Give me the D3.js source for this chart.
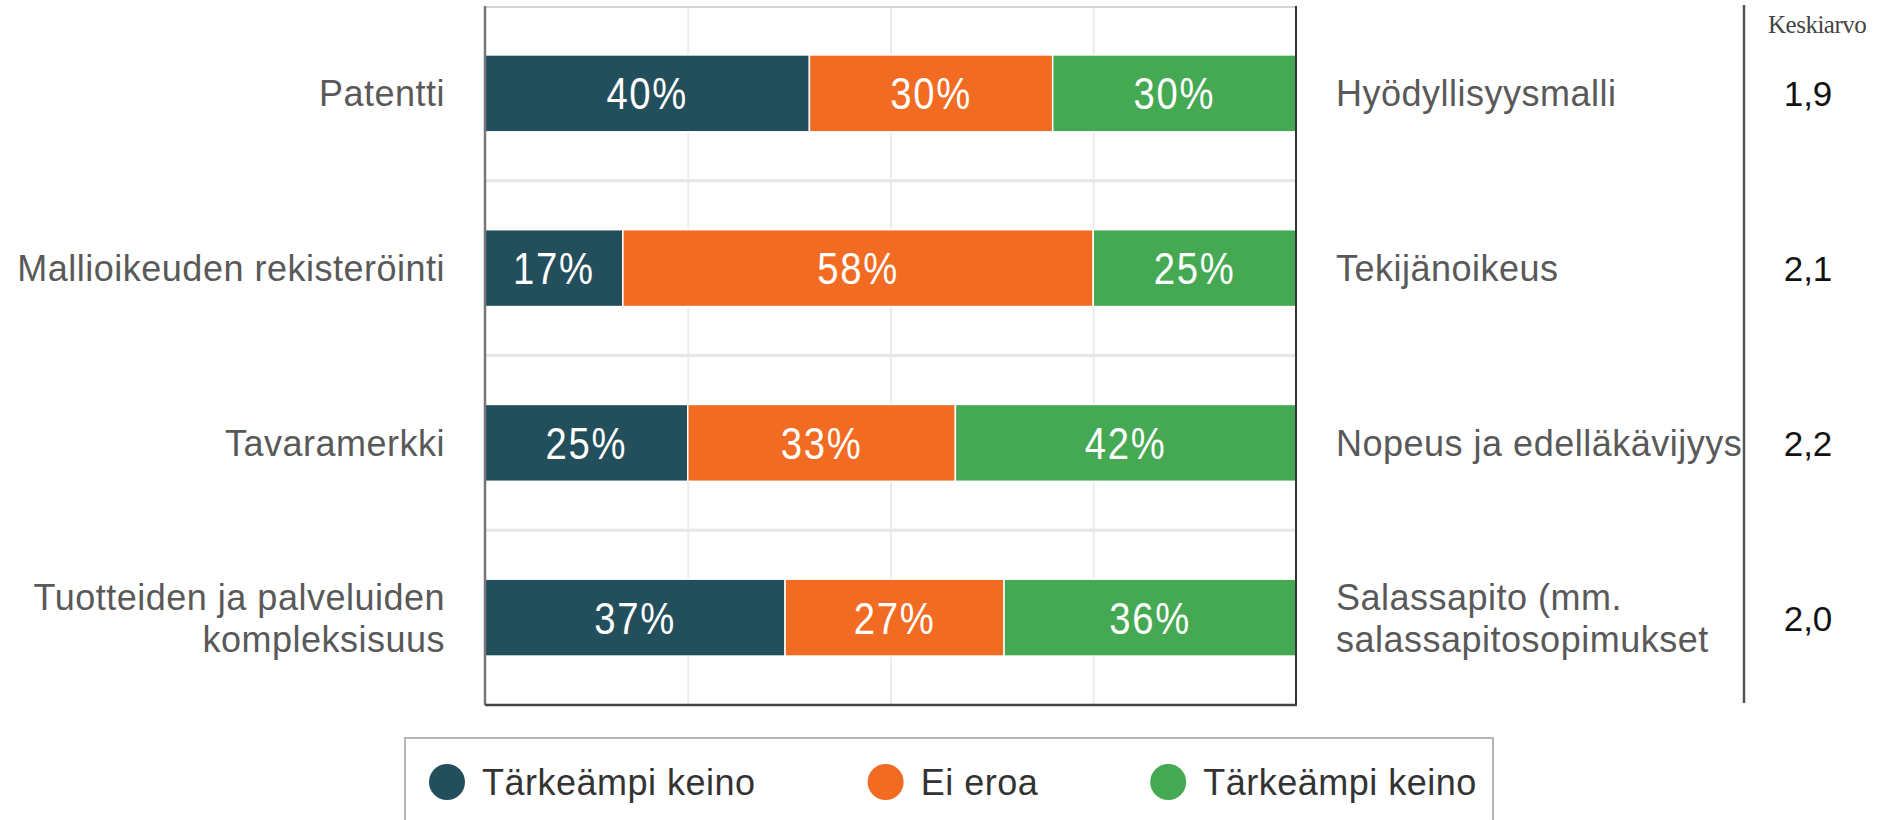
<!DOCTYPE html>
<html>
<head>
    <script src="https://d3js.org/d3.v7.min.js"></script>
    <style>
        body { margin: 0; background: #fff; }
        svg { display: block; }
    </style>
</head>
<body>
    <div id="chart"></div>

    <script>
        // Data
        const leftLabels = [["Patentti"], ["Mallioikeuden rekisteröinti"], ["Tavaramerkki"], ["Tuotteiden ja palveluiden", "kompleksisuus"]];
        const rightLabels = [["Hyödyllisyysmalli"], ["Tekijänoikeus"], ["Nopeus ja edelläkävijyys"], ["Salassapito (mm.", "salassapitosopimukset"]];
        const categories = ["Patentti", "Mallioikeuden rekisteröinti", "Tavaramerkki", "Tuotteiden ja palveluiden kompleksisuus"];
        const leftShare = [40, 17, 25, 37];
        const noDiff = [30, 58, 33, 27];
        const rightShare = [30, 25, 42, 36];
        const averages = ["1,9", "2,1", "2,2", "2,0"];
        const seriesNames = ["Tärkeämpi keino", "Ei eroa", "Tärkeämpi keino"];
        const colors = ["#234e5b", "#f26b23", "#45a853"];
        const xTicks = [25, 50, 75];

        const W = 1883, H = 820;
        const pLeft = 485, pRight = 1296, pTop = 6, pBottom = 705;

        const svg = d3.select("#chart").append("svg")
            .attr("width", W)
            .attr("height", H);

        const x = d3.scaleLinear().domain([0, 100]).range([pLeft, pRight]);
        const y = d3.scaleBand().domain(categories).range([pTop, pBottom])
            .paddingInner(0.56).paddingOuter(0.28);

        // vertical gridlines
        svg.append("g")
            .attr("transform", `translate(0,${pBottom})`)
            .call(d3.axisBottom(x).tickValues(xTicks).tickSize(-(pBottom - pTop)).tickFormat(""))
            .call(g => g.select(".domain").remove())
            .call(g => g.selectAll("line").attr("stroke", "#ececec").attr("stroke-width", 2));

        // horizontal separators between categories
        svg.append("g").selectAll("line")
            .data(categories.slice(1))
            .join("line")
            .attr("x1", pLeft).attr("x2", pRight)
            .attr("y1", d => y(d) - y.step() * y.paddingInner() / 2)
            .attr("y2", d => y(d) - y.step() * y.paddingInner() / 2)
            .attr("stroke", "#e6e6e6")
            .attr("stroke-width", 3);

        // stacked bars
        const rows = categories.map((c, i) => {
            const vals = [leftShare[i], noDiff[i], rightShare[i]];
            let acc = 0;
            return vals.map((v, k) => {
                const seg = { cat: c, k: k, v: v, x0: acc, x1: acc + v };
                acc += v;
                return seg;
            });
        }).flat();

        svg.append("g").selectAll("rect")
            .data(rows)
            .join("rect")
            .attr("x", d => x(d.x0))
            .attr("y", d => y(d.cat))
            .attr("width", d => x(d.x1) - x(d.x0))
            .attr("height", y.bandwidth())
            .attr("fill", d => colors[d.k])
            .attr("stroke", "#fff")
            .attr("stroke-width", 1.5);

        // percentage labels, narrowed horizontally
        svg.append("g").selectAll("text")
            .data(rows)
            .join("text")
            .attr("transform", d => `translate(${x((d.x0 + d.x1) / 2)},${y(d.cat) + y.bandwidth() / 2 + 16}) scale(0.85,1)`)
            .attr("text-anchor", "middle")
            .attr("fill", "#fff")
            .style("font-family", "'Liberation Sans', Arial, sans-serif")
            .style("font-size", "45px")
            .style("letter-spacing", "2px")
            .text(d => d.v + "%");

        // frame
        svg.append("line").attr("x1", pLeft).attr("x2", pRight).attr("y1", pTop + 1).attr("y2", pTop + 1)
            .attr("stroke", "#d4d4d4").attr("stroke-width", 2);
        svg.append("line").attr("x1", pLeft).attr("x2", pLeft).attr("y1", pTop).attr("y2", pBottom)
            .attr("stroke", "#777").attr("stroke-width", 2.5);
        svg.append("line").attr("x1", pRight).attr("x2", pRight).attr("y1", pTop).attr("y2", pBottom)
            .attr("stroke", "#333").attr("stroke-width", 2);
        svg.append("line").attr("x1", pLeft).attr("x2", pRight + 1).attr("y1", pBottom).attr("y2", pBottom)
            .attr("stroke", "#444").attr("stroke-width", 2.5);

        const labelFont = "'Liberation Sans', Arial, sans-serif";

        // left category labels
        svg.append("g").selectAll("text")
            .data(categories.map((c, i) => ({ c: c, lines: leftLabels[i] })))
            .join("text")
            .attr("text-anchor", "end")
            .attr("fill", "#595959")
            .style("font-family", labelFont)
            .style("font-size", "36px")
            .style("letter-spacing", "0.5px")
            .each(function (d) {
                const n = d.lines.length;
                const cy = y(d.c) + y.bandwidth() / 2;
                d3.select(this).selectAll("tspan")
                    .data(d.lines)
                    .join("tspan")
                    .attr("x", 445)
                    .attr("y", (l, j) => cy + 13 + (j - (n - 1) / 2) * 42)
                    .text(l => l);
            });

        // right labels
        svg.append("g").selectAll("text")
            .data(categories.map((c, i) => ({ c: c, lines: rightLabels[i] })))
            .join("text")
            .attr("text-anchor", "start")
            .attr("fill", "#595959")
            .style("font-family", labelFont)
            .style("font-size", "36px")
            .style("letter-spacing", "0.5px")
            .each(function (d) {
                const n = d.lines.length;
                const cy = y(d.c) + y.bandwidth() / 2;
                d3.select(this).selectAll("tspan")
                    .data(d.lines)
                    .join("tspan")
                    .attr("x", 1336)
                    .attr("y", (l, j) => cy + 13 + (j - (n - 1) / 2) * 42)
                    .text(l => l);
            });

        // averages column
        svg.append("line").attr("x1", 1744).attr("x2", 1744).attr("y1", 5).attr("y2", 703)
            .attr("stroke", "#555").attr("stroke-width", 2.5);

        svg.append("text")
            .attr("x", 1768).attr("y", 33)
            .attr("fill", "#444")
            .style("font-family", "'Liberation Serif', 'Times New Roman', serif")
            .style("font-size", "25px")
            .style("letter-spacing", "-0.5px")
            .text("Keskiarvo");

        svg.append("g").selectAll("text")
            .data(categories.map((c, i) => ({ c: c, v: averages[i] })))
            .join("text")
            .attr("x", 1808)
            .attr("y", d => y(d.c) + y.bandwidth() / 2 + 13)
            .attr("text-anchor", "middle")
            .attr("fill", "#111")
            .style("font-family", labelFont)
            .style("font-size", "35px")
            .text(d => d.v);

        // legend
        const legend = svg.append("g");
        legend.append("rect")
            .attr("x", 405).attr("y", 738)
            .attr("width", 1088).attr("height", 120)
            .attr("fill", "#fff")
            .attr("stroke", "#b5b5b5")
            .attr("stroke-width", 2);

        let lx = 447;
        seriesNames.forEach((name, i) => {
            legend.append("circle")
                .attr("cx", lx).attr("cy", 782).attr("r", 18)
                .attr("fill", colors[i]);
            const t = legend.append("text")
                .attr("x", lx + 35).attr("y", 795)
                .attr("fill", "#333")
                .style("font-family", labelFont)
                .style("font-size", "36px")
                .style("letter-spacing", "0.5px")
                .text(name);
            lx += 35 + t.node().getComputedTextLength() + 130;
        });
    </script>
</body>
</html>
